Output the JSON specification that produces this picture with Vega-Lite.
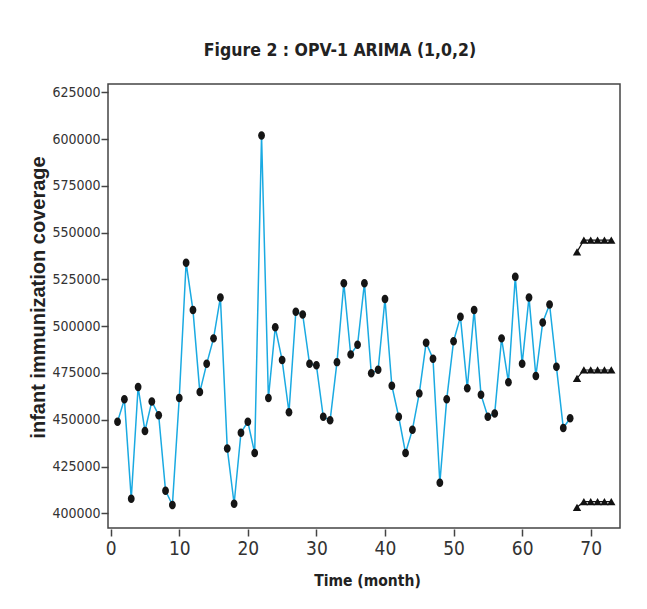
{
  "$schema": "https://vega.github.io/schema/vega-lite/v6.json",
  "width": 512,
  "height": 444,
  "autosize": {"type": "none"},
  "padding": {"left": 108, "top": 84, "right": 27, "bottom": 81},
  "background": "white",
  "title": {
    "text": "Figure 2 : OPV-1 ARIMA (1,0,2)",
    "font": "Liberation Sans Narrow, DejaVu Sans Condensed, Liberation Sans",
    "fontSize": 17.5,
    "fontWeight": "bold",
    "color": "#222222",
    "anchor": "middle",
    "dx": -24,
    "offset": 25
  },
  "config": {
    "view": {"stroke": "#444444", "strokeWidth": 1.5},
    "axis": {"grid": false, "domain": false, "tickColor": "#444444", "tickWidth": 1.5, "labelColor": "#333333", "titleColor": "#222222"}
  },
  "datasets": {
    "obs": [
      {"t": 1, "v": 448900}, {"t": 2, "v": 460900}, {"t": 3, "v": 407800}, {"t": 4, "v": 467500},
      {"t": 5, "v": 444000}, {"t": 6, "v": 459800}, {"t": 7, "v": 452400}, {"t": 8, "v": 412100},
      {"t": 9, "v": 404400}, {"t": 10, "v": 461600}, {"t": 11, "v": 533900}, {"t": 12, "v": 508600},
      {"t": 13, "v": 464800}, {"t": 14, "v": 479900}, {"t": 15, "v": 493500}, {"t": 16, "v": 515400},
      {"t": 17, "v": 434700}, {"t": 18, "v": 405100}, {"t": 19, "v": 443100}, {"t": 20, "v": 448900},
      {"t": 21, "v": 432200}, {"t": 22, "v": 601900}, {"t": 23, "v": 461600}, {"t": 24, "v": 499400},
      {"t": 25, "v": 481900}, {"t": 26, "v": 454000}, {"t": 27, "v": 507700}, {"t": 28, "v": 506300},
      {"t": 29, "v": 479900}, {"t": 30, "v": 479100}, {"t": 31, "v": 451600}, {"t": 32, "v": 449700},
      {"t": 33, "v": 480800}, {"t": 34, "v": 522900}, {"t": 35, "v": 484900}, {"t": 36, "v": 490100},
      {"t": 37, "v": 522900}, {"t": 38, "v": 474800}, {"t": 39, "v": 476700}, {"t": 40, "v": 514500},
      {"t": 41, "v": 468200}, {"t": 42, "v": 451600}, {"t": 43, "v": 432200}, {"t": 44, "v": 444700},
      {"t": 45, "v": 464100}, {"t": 46, "v": 491100}, {"t": 47, "v": 482600}, {"t": 48, "v": 416300},
      {"t": 49, "v": 460900}, {"t": 50, "v": 492000}, {"t": 51, "v": 505000}, {"t": 52, "v": 466800},
      {"t": 53, "v": 508600}, {"t": 54, "v": 463400}, {"t": 55, "v": 451600}, {"t": 56, "v": 453400},
      {"t": 57, "v": 493500}, {"t": 58, "v": 470100}, {"t": 59, "v": 526400}, {"t": 60, "v": 479900},
      {"t": 61, "v": 515400}, {"t": 62, "v": 473400}, {"t": 63, "v": 502000}, {"t": 64, "v": 511600},
      {"t": 65, "v": 478300}, {"t": 66, "v": 445600}, {"t": 67, "v": 450800}
    ],
    "fc": [
      {"t": 68, "v": 403200, "band": "lower"}, {"t": 69, "v": 406200, "band": "lower"},
      {"t": 70, "v": 406200, "band": "lower"}, {"t": 71, "v": 406200, "band": "lower"},
      {"t": 72, "v": 406200, "band": "lower"}, {"t": 73, "v": 406200, "band": "lower"},
      {"t": 68, "v": 472100, "band": "forecast"}, {"t": 69, "v": 476600, "band": "forecast"},
      {"t": 70, "v": 476600, "band": "forecast"}, {"t": 71, "v": 476600, "band": "forecast"},
      {"t": 72, "v": 476600, "band": "forecast"}, {"t": 73, "v": 476600, "band": "forecast"},
      {"t": 68, "v": 539750, "band": "upper"}, {"t": 69, "v": 546000, "band": "upper"},
      {"t": 70, "v": 546000, "band": "upper"}, {"t": 71, "v": 546000, "band": "upper"},
      {"t": 72, "v": 546000, "band": "upper"}, {"t": 73, "v": 546000, "band": "upper"}
    ]
  },
  "encoding": {
    "x": {
      "field": "t",
      "type": "quantitative",
      "scale": {"domain": [-0.39, 74.27], "nice": false, "zero": false},
      "axis": {
        "values": [0, 10, 20, 30, 40, 50, 60, 70],
        "offset": 1,
        "tickSize": 7,
        "labelFont": "Liberation Sans Narrow, DejaVu Sans Condensed, Liberation Sans",
        "labelFontSize": 19,
        "labelPadding": 3,
        "title": "Time (month)",
        "titleFont": "Liberation Sans Narrow, DejaVu Sans Condensed, Liberation Sans",
        "titleFontSize": 15.5,
        "titleFontWeight": "bold",
        "titleX": 259,
        "titleY": 51,
        "titleBaseline": "middle"
      }
    },
    "y": {
      "field": "v",
      "type": "quantitative",
      "scale": {"domain": [392150, 629450], "nice": false, "zero": false},
      "axis": {
        "values": [400000, 425000, 450000, 475000, 500000, 525000, 550000, 575000, 600000, 625000],
        "format": "d",
        "tickSize": 7,
        "labelFont": "Liberation Sans Narrow, DejaVu Sans Condensed, Liberation Sans",
        "labelFontSize": 14,
        "labelPadding": 1,
        "title": "infant immunization coverage",
        "titleFont": "Liberation Sans",
        "titleFontSize": 20,
        "titleFontWeight": "bold",
        "titleX": -70,
        "titleY": 213,
        "titleBaseline": "middle"
      }
    }
  },
  "layer": [
    {
      "data": {"name": "obs"},
      "mark": {"type": "line", "color": "#1AAAE2", "strokeWidth": 1.5}
    },
    {
      "data": {"name": "obs"},
      "mark": {
        "type": "point",
        "shape": "M -0.8,0 A 0.8,1 0 1,0 0.8,0 A 0.8,1 0 1,0 -0.8,0 Z",
        "filled": true,
        "color": "#151515",
        "opacity": 1,
        "size": 72
      }
    },
    {
      "data": {"name": "fc"},
      "mark": {
        "type": "line",
        "color": "#111111",
        "strokeWidth": 1.2,
        "point": {"shape": "triangle-up", "filled": true, "size": 70, "color": "#111111", "opacity": 1}
      },
      "encoding": {"detail": {"field": "band"}}
    }
  ]
}
